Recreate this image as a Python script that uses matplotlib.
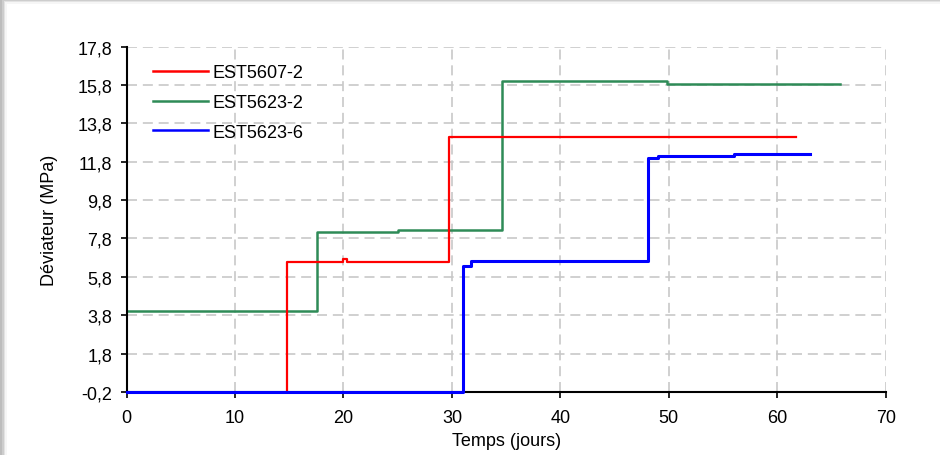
import matplotlib.pyplot as plt
from matplotlib.patches import Rectangle

plt.rcParams['font.family'] = ['Liberation Sans', 'DejaVu Sans']

# step series: time (days) where each level starts, and the level (MPa)
t_red = [14.8, 14.8, 20.0, 20.3, 29.7, 61.7]
v_red = [-0.2, 6.55, 6.75, 6.55, 13.1, 13.1]

t_green = [0.0, 17.6, 25.0, 34.6, 49.8, 65.8]
v_green = [4.0, 8.15, 8.25, 16.0, 15.85, 15.85]

t_blue = [0.0, 31.0, 31.8, 48.1, 49.0, 56.0, 63.0]
v_blue = [-0.2, 6.35, 6.65, 12.0, 12.1, 12.2, 12.2]

labels = ['EST5607-2', 'EST5623-2', 'EST5623-6']
y_ticks = [-0.2, 1.8, 3.8, 5.8, 7.8, 9.8, 11.8, 13.8, 15.8, 17.8]
x_ticks = [0, 10, 20, 30, 40, 50, 60, 70]

fig = plt.figure(figsize=(9.4, 4.56), dpi=100)
fig.patch.set_facecolor('#bdbdbd')

# white panel with a soft shadow along the top and left edges
for i, a in enumerate([0.25, 0.45, 0.7, 1.0]):
    off = (4 - i) * 1.5
    fig.patches.append(Rectangle((8 / 940 - off / 940, 0), 1.0, 1 - 6 / 456 + off / 456,
                                 transform=fig.transFigure, facecolor='white',
                                 edgecolor='none', alpha=a, zorder=-10 + i))

ax = fig.add_axes([0.1347, 0.1382, 0.9422 - 0.1347, 0.8958 - 0.1382])
ax.set_facecolor('none')

ax.plot(t_red, v_red, drawstyle='steps-post', color='#ff0000', lw=1.6, label=labels[0], zorder=3)
ax.plot(t_green, v_green, drawstyle='steps-post', color='#2e8b57', lw=1.8, label=labels[1], zorder=2)
ax.plot(t_blue, v_blue, drawstyle='steps-post', color='#0000ff', lw=2.2, label=labels[2],
        zorder=4, clip_on=False)

ax.set_xlim(0, 70)
ax.set_ylim(-0.2, 17.8)
ax.set_xticks(x_ticks)
ax.set_yticks(y_ticks)
ax.set_yticklabels([('%.1f' % v).replace('.', ',') for v in y_ticks])
ax.tick_params(labelsize=13, length=4.3, width=1.2, color='black')
ax.tick_params(axis='y', pad=6)
ax.tick_params(axis='x', pad=8)

ax.grid(True, color='#c8c8c8', linestyle=(0, (6, 3.5)), linewidth=1.2)
ax.set_axisbelow(True)
for s in ['top', 'right']:
    ax.spines[s].set_visible(False)
for s in ['left', 'bottom']:
    ax.spines[s].set_linewidth(1.5)

ax.set_xlabel('Temps (jours)', fontsize=13, labelpad=4)
ax.set_ylabel('Déviateur (MPa)', fontsize=13, labelpad=14)

leg = ax.legend(loc='upper left', bbox_to_anchor=(0.013, 0.995), frameon=False, fontsize=13,
                handlelength=3.05, handletextpad=0.25, labelspacing=0.7)
for line in leg.get_lines():
    line.set_linewidth(1.8)

fig.savefig('out.png', dpi=100, facecolor=fig.get_facecolor())
